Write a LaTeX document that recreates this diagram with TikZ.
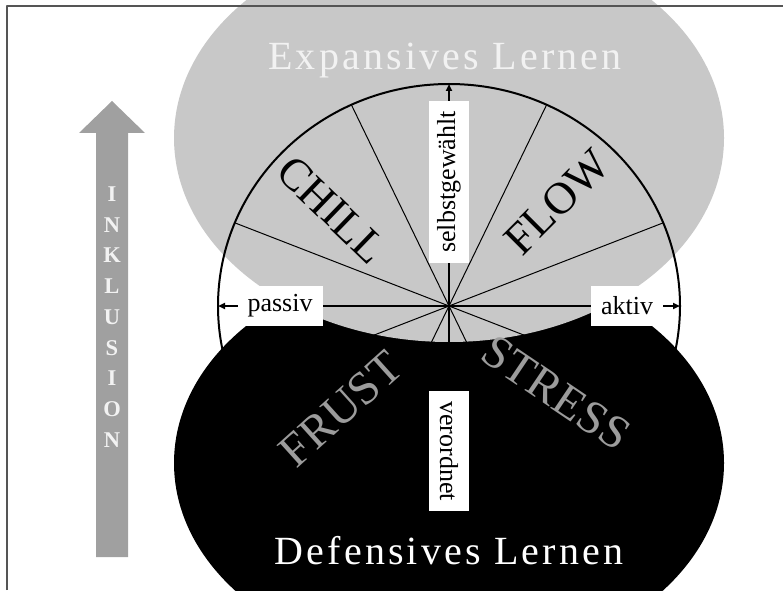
\documentclass[tikz,border=0pt]{standalone}
\usepackage{fontspec}
\setmainfont{Liberation Serif}
\newfontfamily\spacedfont[LetterSpace=8]{Liberation Serif}
\usetikzlibrary{arrows.meta}
\definecolor{ink}{HTML}{000000}
\definecolor{cloud}{HTML}{C8C8C8}
\definecolor{frameline}{HTML}{555555}
\definecolor{shade}{HTML}{9C9C9C}
\definecolor{arrowgray}{HTML}{A0A0A0}
\definecolor{paleink}{HTML}{F2F2F2}
\tikzset{
  every picture/.style={line join=round},
  axisarrow/.style={-{Triangle[length=7pt,width=6pt]}, line width=2pt, draw=ink},
  spoke/.style={line width=1pt, draw=ink},
  tag/.style={fill=white, inner xsep=10pt, inner ysep=0pt, minimum height=40pt,
    font=\fontsize{26}{30}\selectfont},
  mood/.style={font=\fontsize{45}{50}\selectfont, inner sep=0pt},
  title/.style={font=\spacedfont\fontsize{40}{44}\selectfont, anchor=base},
  letters/.style={font=\bfseries\fontsize{22.5}{30.75}\selectfont, text=paleink, align=center}
}
\begin{document}
\begin{tikzpicture}[x=1pt,y=1pt]
  \useasboundingbox (0,0) rectangle (783,590);

  % Learning fields
  \fill[ink] (449,127) ellipse [x radius=275pt, y radius=203pt];
  \fill[cloud] (449,452) ellipse [x radius=275pt, y radius=204pt];

  % Wheel
  \coordinate (hub) at (449,284);
  \coordinate (north) at (449,506);
  \coordinate (south) at (449,62);
  \coordinate (west) at (218,284);
  \coordinate (east) at (680,284);
  \draw[line width=2pt] (hub) ellipse [x radius=231pt, y radius=222pt];
  \foreach \a in {22,65,115,158,202,245,295,338}
    \draw[spoke] (hub) -- ++(\a:231pt and 222pt);
  \draw[axisarrow] (hub) -- (north);
  \draw[axisarrow] (hub) -- (south);
  \draw[axisarrow] (hub) -- (west);
  \draw[axisarrow] (hub) -- (east);

  % Axis labels
  \node[tag, rotate=90] (chosen) at (449,408) {selbstgewählt};
  \node[tag, rotate=-90] (imposed) at (449,139) {verordnet};
  \node[tag] (passive) at (280,284) {passiv};
  \node[tag] (active) at (627,284) {aktiv};

  % Quadrants
  \node[mood, rotate=-44] (chill) at (332,380) {CHILL};
  \node[mood, rotate=45] (flow) at (557,388) {FLOW};
  \node[mood, text=shade, rotate=42, font=\fontsize{47}{50}\selectfont] (frust) at (341,181) {FRUST};
  \node[mood, text=shade, rotate=-34, font=\fontsize{47}{50}\selectfont] (stress) at (556,197) {STRESS};

  \node[title, text=paleink] (expansive) at (445,520) {Expansives Lernen};
  \node[title, text=white] (defensive) at (449,26) {Defensives Lernen};

  % Inclusion arrow
  \fill[arrowgray] (96,33) -- (128,33) -- (128,457) -- (145,457) -- (112,489)
    -- (79,457) -- (96,457) -- cycle;
  \node[letters] (inclusion) at (112,273) {I\\N\\K\\L\\U\\S\\I\\O\\N};

  % Frame
  \draw[frameline, line width=2pt] (7,0) -- (7,584) -- (783,584);
\end{tikzpicture}
\end{document}
